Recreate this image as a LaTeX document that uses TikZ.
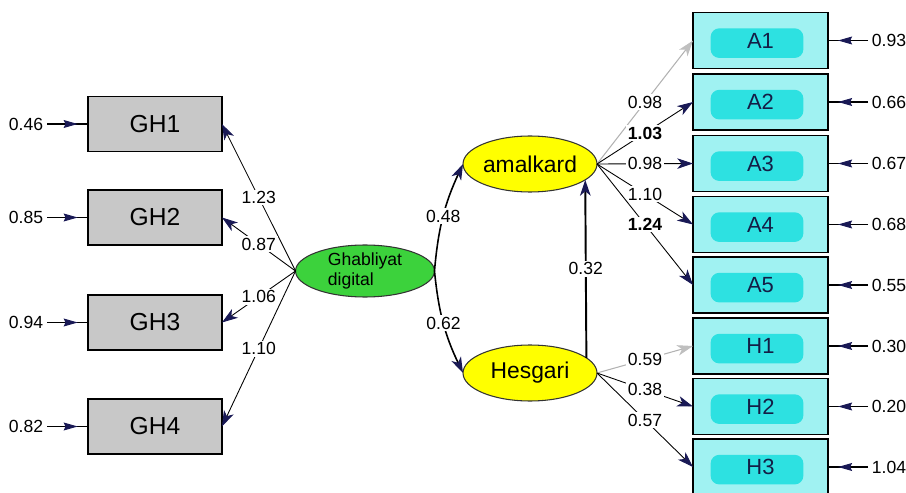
\documentclass[tikz,border=0pt]{standalone}
\usepackage{fontspec}
\setmainfont{Liberation Sans}
\usetikzlibrary{shapes.geometric,arrows.meta,decorations.markings}
\definecolor{boxgray}{RGB}{200,200,200}
\definecolor{boxcyan}{RGB}{160,242,242}
\definecolor{blobcyan}{RGB}{45,225,225}
\definecolor{exogreen}{RGB}{60,210,60}
\definecolor{endoyellow}{RGB}{255,255,0}
\definecolor{tipnavy}{RGB}{25,25,85}
\definecolor{textnavy}{RGB}{20,30,70}

\begin{document}
\begin{tikzpicture}[x=0.02cm, y=-0.02cm,
  tip/.style={-{Stealth[length=9pt,width=6pt,inset=2.5pt,color=tipnavy]}},
  fixtip/.style={draw=black!30, -{Stealth[length=9pt,width=6pt,inset=2.5pt,color=black!25]}},
  obsgray/.style={draw, line width=0.9pt, fill=boxgray, minimum width=2.68cm, minimum height=1.1cm,
    inner sep=0pt, outer sep=0pt, font=\fontsize{14}{16}\selectfont},
  obscyan/.style={draw, line width=0.9pt, fill=boxcyan, minimum width=2.7cm, minimum height=1.12cm,
    inner sep=0pt, outer sep=0pt, text=textnavy, font=\fontsize{12.5}{14}\selectfont,
    path picture={\fill[blobcyan, rounded corners=5pt]
      ([xshift=10pt,yshift=6pt]path picture bounding box.south west) rectangle
      ([xshift=-14pt,yshift=-9pt]path picture bounding box.north east);}},
  exolat/.style={ellipse, draw=black!80, line width=0.6pt, fill=exogreen, minimum width=2.78cm,
    minimum height=1.04cm, inner sep=0pt, outer sep=0pt, align=left, font=\fontsize{10}{11}\selectfont},
  endolat/.style={ellipse, draw=black!80, line width=0.6pt, fill=endoyellow, minimum width=2.68cm,
    minimum height=1.12cm, inner sep=0pt, outer sep=0pt, font=\fontsize{13}{15}\selectfont},
  lbl/.style={fill=white, inner sep=1pt, font=\fontsize{10}{12}\selectfont},
  errlbl/.style={inner sep=2pt, font=\fontsize{10}{12}\selectfont},
  errline/.style={line width=0.6pt, postaction={decorate, decoration={markings,
    mark=at position 0.75 with {\arrow{Stealth[length=8pt,width=4.5pt,inset=1pt,color=tipnavy]}}}}}]
  \useasboundingbox (0,0) rectangle (906,493);

  % indicators of Ghabliyat digital
  \foreach \n/\y/\v in {1/124/0.46, 2/217.5/0.85, 3/322.5/0.94, 4/426.5/0.82} {
    \node[obsgray] (GH\n) at (155,\y) {GH\n};
    \node[errlbl, anchor=east] (eGH\n) at (47,\y) {\v};
    \draw[errline] (eGH\n.east) -- (GH\n.west);
  }

  % indicators of amalkard and Hesgari
  \foreach \n/\y/\v in {A1/40.5/0.93, A2/102/0.66, A3/163.5/0.67, A4/224.5/0.68,
                        A5/285/0.55, H1/346/0.30, H2/406.5/0.20, H3/467/1.04} {
    \node[obscyan] (\n) at (760.5,\y) {\n};
    \node[errlbl, anchor=west] (e\n) at (868,\y) {\v};
    \draw[errline] (e\n.west) -- (\n.east);
  }

  % latent variables
  \node[exolat] (Ghab) at (365,271) {Ghabliyat\\digital};
  \node[endolat] (amal) at (530,164) {amalkard};
  \node[endolat] (Hes) at (530,373) {Hesgari};

  \foreach \n/\v in {1/1.23, 2/0.87, 3/1.06, 4/1.10}
    \draw[tip, line width=0.5pt] (Ghab.west) -- (GH\n.east) node[lbl, midway] {\v};

  \draw[tip, line width=0.9pt] (Ghab.east) to[bend left=10] node[lbl] {0.48} (amal.west);
  \draw[tip, line width=0.9pt] (Ghab.east) to[bend right=10] node[lbl] {0.62} (Hes.west);
  \draw[tip, line width=1.1pt] (Hes.15) -- (amal.-16) node[lbl, midway] {0.32};

  \draw[fixtip, line width=0.6pt] (amal.east) -- (A1.west) node[lbl, midway, text=black] {0.98};
  \draw[tip, line width=0.5pt] (amal.east) -- (A2.west) node[lbl, midway, font=\fontsize{10}{12}\selectfont\bfseries] {1.03};
  \draw[tip, line width=0.5pt] (amal.east) -- (A3.west) node[lbl, midway] {0.98};
  \draw[tip, line width=0.5pt] (amal.east) -- (A4.west) node[lbl, midway] {1.10};
  \draw[tip, line width=0.5pt] (amal.east) -- (A5.west) node[lbl, midway, font=\fontsize{10}{12}\selectfont\bfseries] {1.24};

  \draw[fixtip, line width=0.6pt] (Hes.east) -- (H1.west) node[lbl, midway, text=black] {0.59};
  \draw[tip, line width=0.5pt] (Hes.east) -- (H2.west) node[lbl, midway] {0.38};
  \draw[tip, line width=0.5pt] (Hes.east) -- (H3.west) node[lbl, midway] {0.57};
\end{tikzpicture}
\end{document}
